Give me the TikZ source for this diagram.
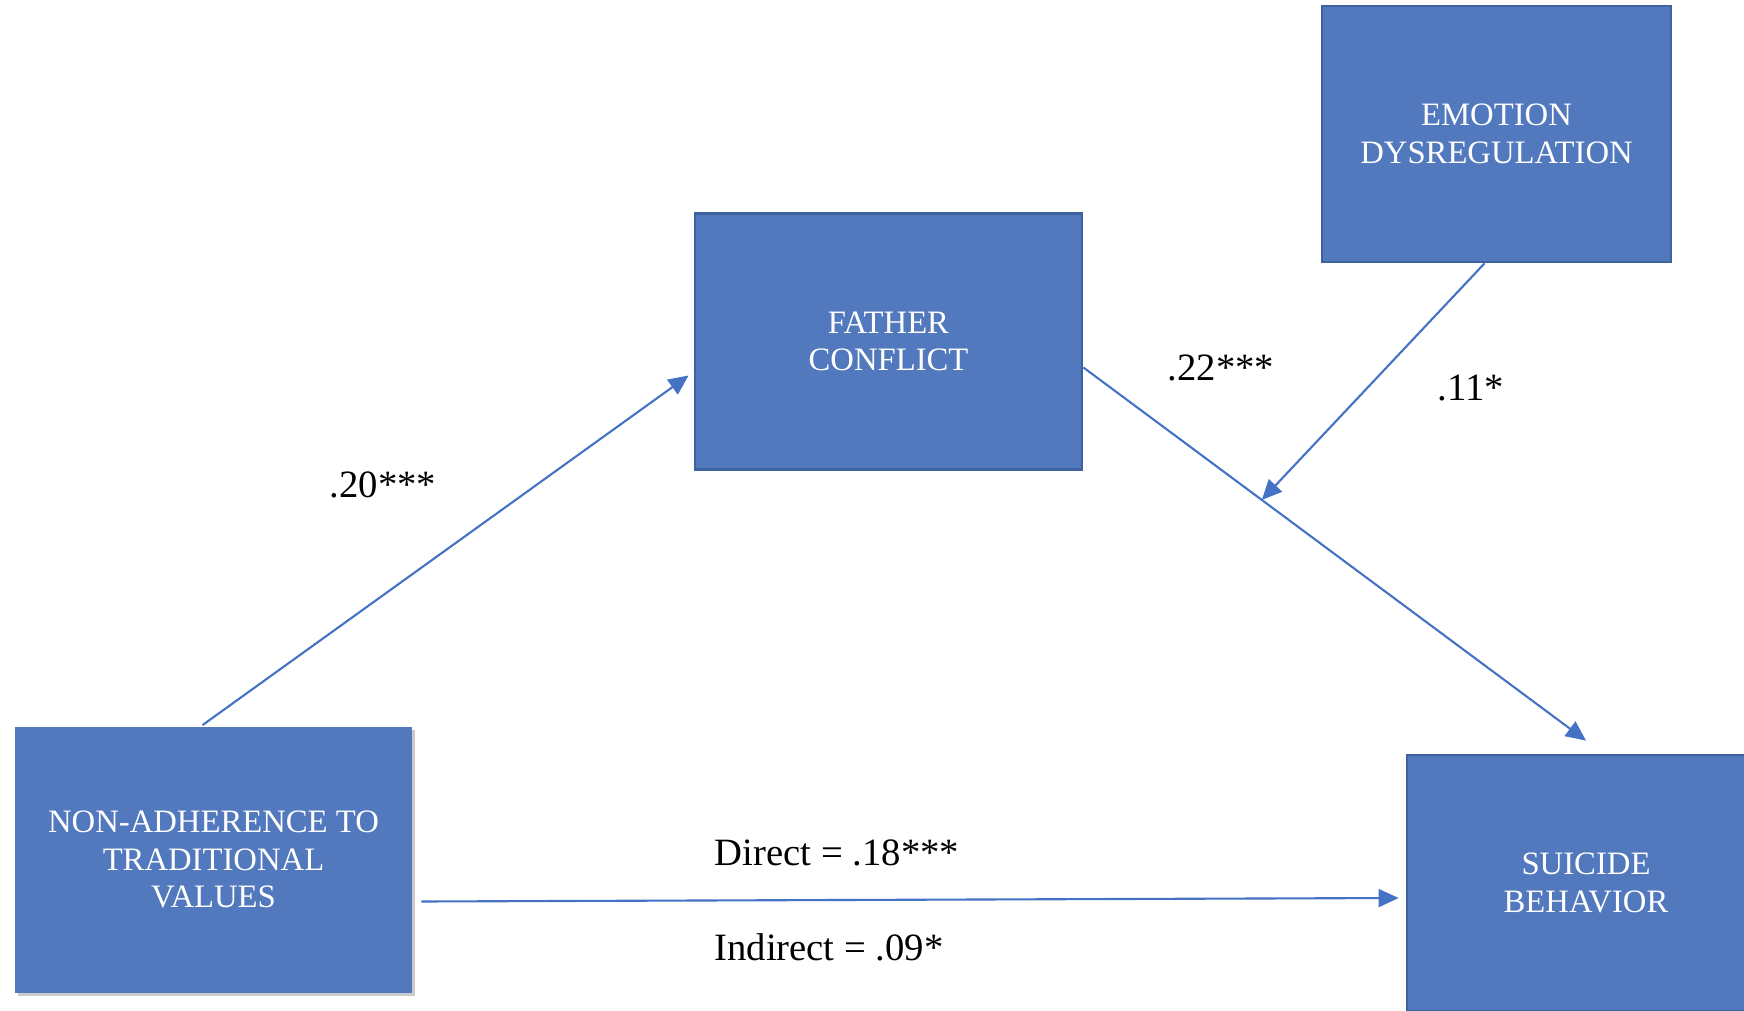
\documentclass[tikz,border=0pt]{standalone}
\usepackage{fontspec}
\setmainfont{Liberation Serif}
\usepackage{tikz}
\usetikzlibrary{arrows.meta,shadows}
\definecolor{boxfill}{RGB}{82,120,189}
\definecolor{boxline}{RGB}{62,98,158}
\definecolor{pathline}{RGB}{68,114,196}
\tikzset{
	varbox/.style={fill=boxfill, draw=boxline, line width=0.8pt, text=white, align=center, inner sep=0pt, font=\fontsize{9.3}{10.7}\selectfont},
	path/.style={draw=pathline, line width=0.6pt, -{Triangle[length=0.2cm,width=0.18cm]}},
	coef/.style={inner sep=0pt, font=\fontsize{11}{12}\selectfont}
}

\begin{document}
\begin{tikzpicture}
			%%%%% START %%%%%
			
			\clip (0, 0) rectangle (17.44, -10.11);
			
			\node[varbox, draw=none, minimum width=3.97cm, minimum height=2.66cm, drop shadow={shadow xshift=0.03cm, shadow yshift=-0.03cm, opacity=0.35, fill=black!60}] (nat) at (2.135, -8.595) {NON-ADHERENCE TO\\TRADITIONAL\\VALUES};
			\node[varbox, minimum width=3.87cm, minimum height=2.56cm] (fc) at (8.885, -3.415) {FATHER\\CONFLICT};
			\node[varbox, minimum width=3.49cm, minimum height=2.56cm] (emo) at (14.965, -1.34) {EMOTION\\DYSREGULATION};
			\node[varbox, minimum width=3.58cm, minimum height=2.56cm] (sb) at (15.86, -8.83) {SUICIDE\\BEHAVIOR};
			
			\draw[path] ([xshift=-0.11cm]nat.north) -- ([shift={(-0.05,-0.34)}]fc.west);
			\draw[path] ([yshift=-0.26cm]fc.east) -- coordinate[pos=0.355] (mod) ([yshift=0.13cm]sb.north);
			\draw[path] ([xshift=-0.12cm]emo.south) -- (mod);
			\draw[path] ([shift={(0.08,-0.42)}]nat.east) -- ([shift={(-0.07,-0.15)}]sb.west);
			
			\node[coef] (a) at (3.83, -4.85) {.20***};
			\node[coef] (b) at (12.21, -3.68) {.22***};
			\node[coef] (c) at (14.71, -3.88) {.11*};
			\node[coef] (d) at (8.37, -8.53) {Direct = .18***};
			\node[coef] (e) at (8.29, -9.47) {Indirect = .09*};
			
			%%%%% END %%%%%
		\end{tikzpicture}
\end{document}
